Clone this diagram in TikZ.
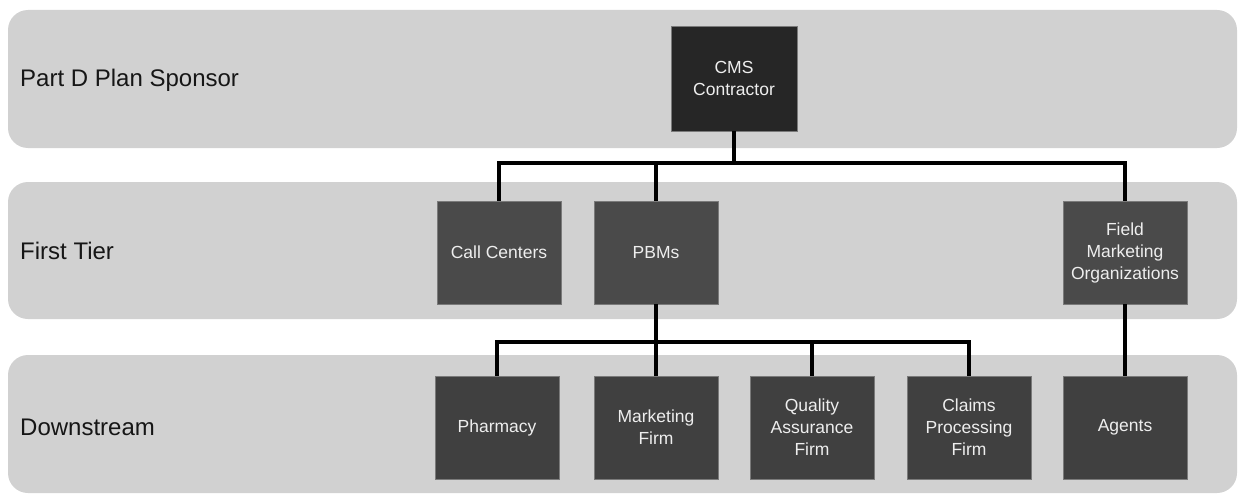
\documentclass[tikz,border=0pt]{standalone}
\usepackage{fontspec}
\setmainfont{Liberation Sans}
\definecolor{band}{HTML}{D1D1D1}
\definecolor{topbox}{HTML}{262626}
\definecolor{midbox}{HTML}{4A4A4A}
\definecolor{lowbox}{HTML}{404040}
\definecolor{boxline}{HTML}{7A7A7A}
\definecolor{boxtext}{HTML}{EEEEEE}
\definecolor{labeltext}{HTML}{161616}
\tikzset{
  bandbox/.style={fill=band, draw=none, rounded corners=20pt},
  bandlabel/.style={anchor=west, text=labeltext, inner sep=0pt, font=\fontsize{24}{29}\selectfont},
  orgbox/.style={draw=boxline, line width=0.8pt, text=boxtext, align=center, inner sep=0pt,
    minimum width=124pt, minimum height=103pt, font=\fontsize{17.5}{22}\selectfont},
  conn/.style={line width=4pt, draw=black, line join=miter}
}
\begin{document}
\begin{tikzpicture}[x=1pt,y=-1pt]
\useasboundingbox (0,0) rectangle (1239,495);
\fill[white] (0,0) rectangle (1239,495);
% bands
\path[bandbox] (8,10) rectangle (1237,148);
\path[bandbox] (8,182) rectangle (1237,319);
\path[bandbox] (8,355) rectangle (1237,493);
% band labels
\node[bandlabel] (l1) at (20,80) {Part D Plan Sponsor};
\node[bandlabel] (l2) at (20,251) {First Tier};
\node[bandlabel] (l3) at (20,427) {Downstream};
% bus levels
\coordinate (bus1) at (0,163);
\coordinate (bus2) at (0,342);
% boxes
\node[orgbox, fill=topbox, minimum width=126pt, minimum height=105pt] (cms) at (734,78.5) {CMS\\Contractor};
\node[orgbox, fill=midbox] (cc) at (499,252.5) {Call Centers};
\node[orgbox, fill=midbox] (pbm) at (656,252.5) {PBMs};
\node[orgbox, fill=midbox] (fmo) at (1125,252.5) {Field\\Marketing\\Organizations};
\node[orgbox, fill=lowbox] (pha) at (497,427.5) {Pharmacy};
\node[orgbox, fill=lowbox] (mkt) at (656,427.5) {Marketing\\Firm};
\node[orgbox, fill=lowbox] (qa) at (812,427.5) {Quality\\Assurance\\Firm};
\node[orgbox, fill=lowbox] (clm) at (969,427.5) {Claims\\Processing\\Firm};
\node[orgbox, fill=lowbox] (agt) at (1125,427.5) {Agents};
% connectors
\draw[conn] (cms.south) -- (cms.south |- bus1) -| (cc.north);
\draw[conn] (cms.south |- bus1) -| (pbm.north);
\draw[conn] (cms.south |- bus1) -| (fmo.north);
\draw[conn] (pbm.south) -- (mkt.north);
\draw[conn] (pbm.south |- bus2) -| (pha.north);
\draw[conn] (pbm.south |- bus2) -| (qa.north);
\draw[conn] (pbm.south |- bus2) -| (clm.north);
\draw[conn] (fmo.south) -- (agt.north);
\end{tikzpicture}
\end{document}
